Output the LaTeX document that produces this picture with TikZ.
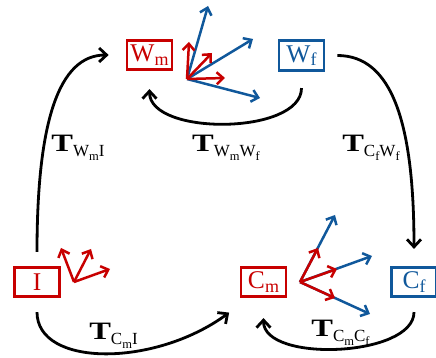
\documentclass[tikz,border=0pt]{standalone}
\usepackage{fontspec}
\setmainfont{Liberation Serif}
\usepackage{graphicx}
\usetikzlibrary{arrows.meta}
\definecolor{cred}{RGB}{200,0,0}
\definecolor{cblue}{RGB}{16,88,155}
\newcommand{\SubSub}[1]{\raisebox{-4pt}{\fontsize{12.5}{12.5}\selectfont #1}}
\newcommand{\TLab}[1]{\scalebox{1.3}[1]{\fontsize{25}{25}\selectfont\bfseries T}\raisebox{-4.5pt}{\fontsize{17}{17}\selectfont #1}}
\newcommand{\BoxSub}[1]{\raisebox{-3.5pt}{\fontsize{18}{18}\selectfont #1}}
\begin{document}
\begin{tikzpicture}[x=1pt,y=1pt,
 fbox/.style={draw, line width=2.7pt, inner sep=0pt, minimum width=45pt, minimum height=29.5pt, font=\fontsize{25.5}{25.5}\selectfont},
 mbox/.style={fbox, draw=cred, text=cred},
 wbox/.style={fbox, draw=cblue, text=cblue},
 conn/.style={line width=2.8pt, -{Straight Barb[length=7.5pt,width=14pt]}},
 vec/.style={line width=2.5pt, -{Straight Barb[length=6.5pt,width=12pt]}},
 rvec/.style={vec, cred}, bvec/.style={vec, cblue},
 lab/.style={anchor=base, inner sep=0pt}]
\useasboundingbox (0,0) rectangle (436,358);
\node[mbox] (Wm) at (149.5,303) {W\BoxSub{m}};
\node[wbox] (Wf) at (301.5,302.5) {W\BoxSub{f}};
\node[mbox] (I) at (37,76) {I};
\node[mbox] (Cm) at (263.5,76) {C\BoxSub{m}};
\node[wbox] (Cf) at (414,76) {C\BoxSub{f}};
% connectors
\draw[conn] ([yshift=14pt]I.north) .. controls +(0,130) and +(-50,0) .. ([xshift=-17pt]Wm.west);
\draw[conn] ([xshift=12pt]Wf.east) .. controls +(55,0) and +(0,125) .. ([yshift=17pt]Cf.north);
\draw[conn] ([yshift=-16.5pt]Wf.south) .. controls +(0,-47) and +(0,-47) .. ([yshift=-18pt]Wm.south);
\draw[conn] ([yshift=-14pt]I.south) .. controls +(0,-55) and +(-75,-55) .. ([xshift=-10.5pt,yshift=-14.5pt]Cm.south west);
\draw[conn] ([yshift=-14pt]Cf.south) .. controls +(0,-45) and +(0,-45) .. ([yshift=-20pt]Cm.south);
% labels
\node[lab] (t1) at (78,206) {\TLab{W\SubSub{m}I}};
\node[lab] (t2) at (226,206) {\TLab{W\SubSub{m}W\SubSub{f}}};
\node[lab] (t3) at (371,206) {\TLab{C\SubSub{f}W\SubSub{f}}};
\node[lab] (t4) at (113.5,18) {\TLab{C\SubSub{m}I}};
\node[lab] (t5) at (340.5,21) {\TLab{C\SubSub{m}C\SubSub{f}}};
% frames
\coordinate (o1) at (187,279);
\draw[bvec] (o1) -- +(21,73);
\draw[bvec] (o1) -- +(66,40);
\draw[bvec] (o1) -- +(73,-19);
\draw[rvec] (o1) -- +(2,37);
\draw[rvec] (o1) -- +(25,26);
\draw[rvec] (o1) -- +(38,1);
\coordinate (o2) at (74,76);
\draw[rvec] (o2) -- +(-13,34);
\draw[rvec] (o2) -- +(17,33);
\draw[rvec] (o2) -- +(36,13);
\coordinate (o3) at (300,76);
\draw[bvec] (o3) -- +(35,67);
\draw[bvec] (o3) -- +(72,26);
\draw[bvec] (o3) -- +(70,-32);
\draw[rvec] (o3) -- +(18,34);
\draw[rvec] (o3) -- +(37,13);
\draw[rvec] (o3) -- +(35,-16);
\end{tikzpicture}
\end{document}
